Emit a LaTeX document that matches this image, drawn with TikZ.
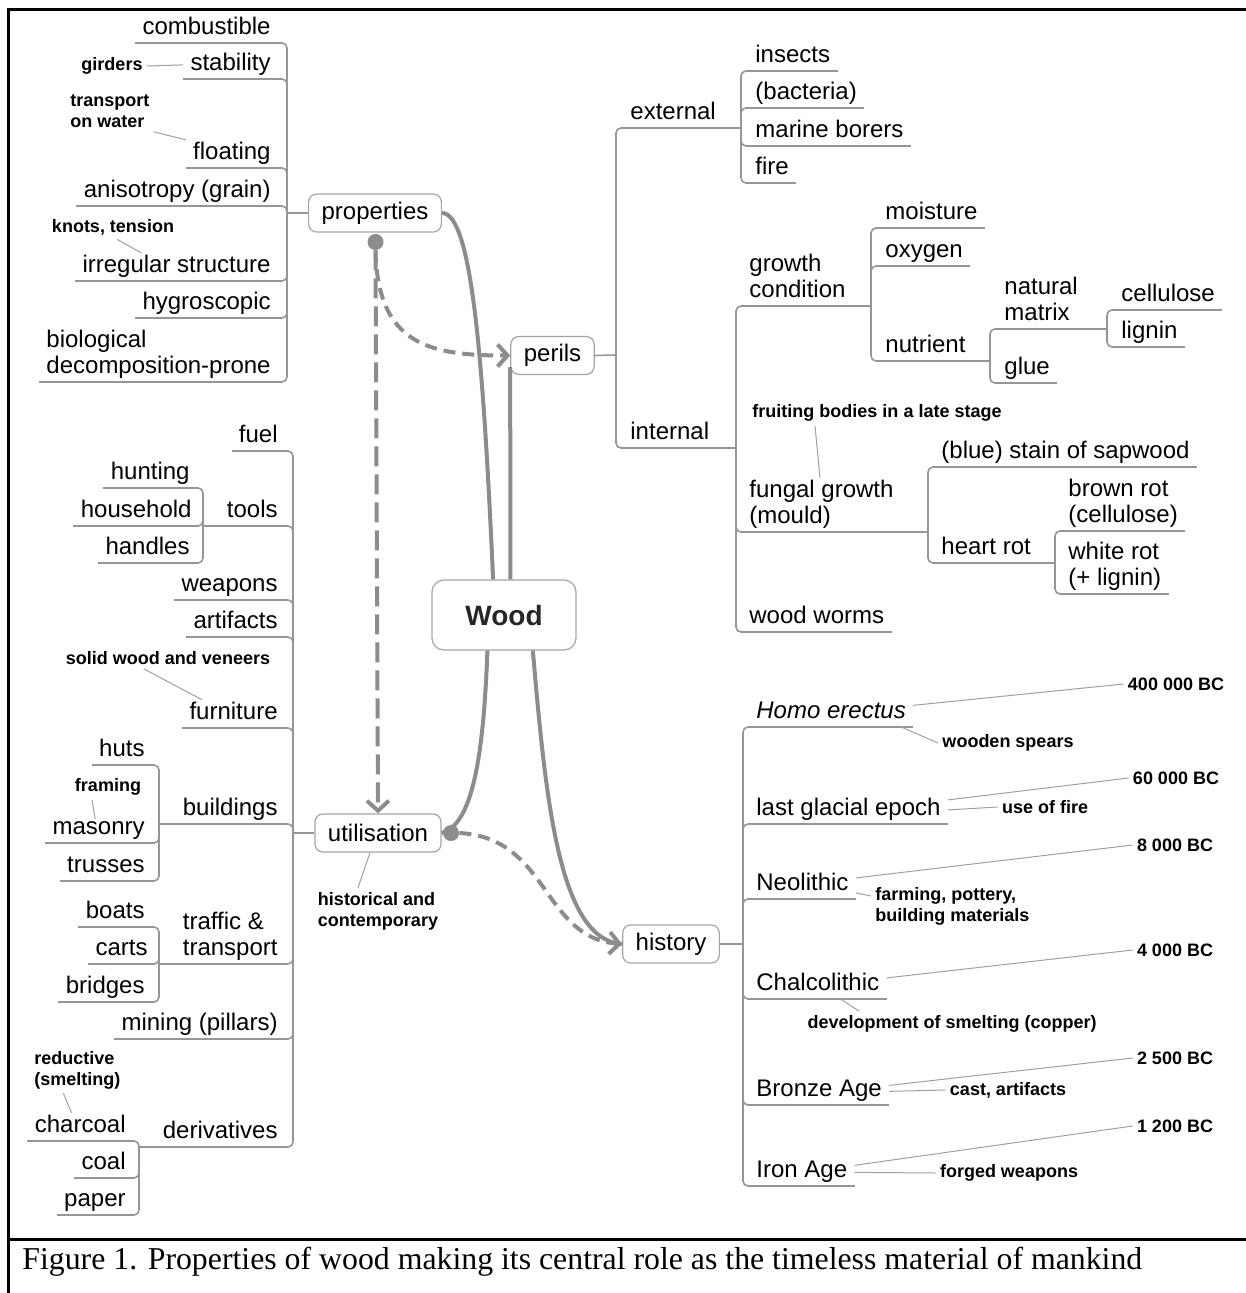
\documentclass[tikz,border=0pt]{standalone}
\usepackage{fontspec}
\setmainfont{Liberation Sans}
\newfontfamily\capfont{Liberation Serif}
\usetikzlibrary{arrows.meta,positioning}
\definecolor{linkgray}{RGB}{140,140,140}
\definecolor{branchgray}{RGB}{150,150,150}
\definecolor{boxgray}{RGB}{165,165,165}
\definecolor{notegray}{RGB}{160,160,160}

\begin{document}
\begin{tikzpicture}[x=0.5pt, y=-0.5pt,
    boxnode/.style={draw=boxgray, line width=0.6pt, rounded corners=4pt, fill=white, font=\fontsize{12}{13}\selectfont, inner xsep=6.5pt, minimum height=19pt},
    branchline/.style={draw=branchgray, line width=0.8pt, rounded corners=2.5pt},
    leafnode/.style={font=\fontsize{12}{13}\selectfont, align=left, inner xsep=3.5pt, inner ysep=1pt, text depth=3pt,
        append after command={(\tikzlastnode.south west) edge[branchline] (\tikzlastnode.south east)}},
    lleaf/.style={leafnode, anchor=south east},
    rleaf/.style={leafnode, anchor=south west},
    notenode/.style={font=\bfseries\fontsize{9}{10.5}\selectfont, align=left, inner sep=2pt},
    noteline/.style={draw=notegray, line width=0.5pt},
    linkline/.style={draw=linkgray, line width=2pt},
    dashlink/.style={linkline, dash pattern=on 6pt off 3.5pt, -{Straight Barb[length=5pt,width=11pt]}},
    dotnode/.style={circle, fill=linkgray, minimum size=8pt, inner sep=0pt}]
    \useasboundingbox (0,0) rectangle (1245,1293);
    \draw[line width=1.5pt] (8,1300) -- (8,10) -- (1260,10);
    \draw[line width=1.5pt] (8,1239) -- (1260,1239);
    \node[anchor=base west, inner sep=0pt, font=\capfont\fontsize{15.9}{18}\selectfont] (caption) at (22,1269) {Figure 1. Properties of wood making its central role as the timeless material of mankind};

    \node[boxnode, minimum width=72pt, minimum height=35pt, rounded corners=6pt, text=black!85, font=\bfseries\fontsize{14}{16}\selectfont] (wood) at (504,615) {Wood};
    \node[boxnode] (properties) at (375,213) {properties};
    \node[boxnode] (perils) at (552.5,355.5) {perils};
    \node[boxnode] (utilisation) at (378,833) {utilisation};
    \node[boxnode] (history) at (671,944) {history};

    \draw[linkline] (properties.east) .. controls +(30,0) and +(-10,-220) .. (wood.107);
    \draw[linkline] (wood.80) -- ([yshift=4pt]perils.south west);
    \draw[linkline] (wood.-115) .. controls +(-4,110) and +(30,-8) .. (utilisation.east);
    \draw[linkline] (wood.-51) .. controls +(13,150) and +(-63,-4) .. (history.west);

    \node[dotnode] (pdot) at (375.5,242) {};
    \node[dotnode] (udot) at (451,833) {};
    \draw[dashlink] (pdot.south) .. controls +(2,95) and +(-80,0) .. (perils.west);
    \draw[dashlink, dash pattern=on 10pt off 4pt] (pdot.south) -- (utilisation.north);
    \draw[dashlink] (udot.east) .. controls +(90,5) and +(-80,-6) .. (history.west);

    \node[lleaf] (combustible) at (278,43) {combustible};
    \node[lleaf] (stability) at (278,79) {stability};
    \node[lleaf] (floating) at (278,168) {floating};
    \node[lleaf] (anisotropy) at (278,206) {anisotropy (grain)};
    \node[lleaf] (irregular) at (278,281) {irregular structure};
    \node[lleaf] (hygroscopic) at (278,318) {hygroscopic};
    \node[lleaf] (biological) at (278,382) {biological\\decomposition-prone};
    \coordinate (pj) at (287,213);
    \draw[branchline] (properties.west) -- (pj);
    \draw[branchline] (pj) |- (combustible.south east);
    \draw[branchline] (pj) |- (stability.south east);
    \draw[branchline] (pj) |- (floating.south east);
    \draw[branchline] (pj) |- (anisotropy.south east);
    \draw[branchline] (pj) |- (irregular.south east);
    \draw[branchline] (pj) |- (hygroscopic.south east);
    \draw[branchline] (pj) |- (biological.south east);

    \node[notenode] (girders) at (112,66) {girders};
    \node[notenode, anchor=west] (transport) at (66,111) {transport\\on water};
    \node[notenode] (knots) at (113,227) {knots, tension};
    \draw[noteline] (girders.east) -- (stability.west);
    \draw[noteline] (transport.south east) -- (floating.north west);
    \draw[noteline] ([xshift=2pt]knots.south) -- ([xshift=33pt]irregular.north west);

    \node[lleaf] (fuel) at (285,451) {fuel};
    \node[lleaf] (tools) at (285,526) {tools};
    \node[lleaf] (weapons) at (285,600) {weapons};
    \node[lleaf] (artifacts) at (285,637) {artifacts};
    \node[lleaf] (furniture) at (285,728) {furniture};
    \node[lleaf] (buildings) at (285,824) {buildings};
    \node[lleaf] (traffic) at (285,964) {traffic \&\\transport};
    \node[lleaf] (mining) at (285,1039) {mining (pillars)};
    \node[lleaf] (derivatives) at (285,1147) {derivatives};
    \coordinate (uj) at (293,833);
    \draw[branchline] (utilisation.west) -- (uj);
    \draw[branchline] (uj) |- (fuel.south east);
    \draw[branchline] (uj) |- (tools.south east);
    \draw[branchline] (uj) |- (weapons.south east);
    \draw[branchline] (uj) |- (artifacts.south east);
    \draw[branchline] (uj) |- (furniture.south east);
    \draw[branchline] (uj) |- (buildings.south east);
    \draw[branchline] (uj) |- (traffic.south east);
    \draw[branchline] (uj) |- (mining.south east);
    \draw[branchline] (uj) |- (derivatives.south east);

    \node[lleaf] (hunting) at (197,488) {hunting};
    \node[lleaf] (household) at (199,526) {household};
    \node[lleaf] (handles) at (197,563) {handles};
    \coordinate (tj) at (203,526);
    \draw[branchline] (tools.south west) -- (tj);
    \draw[branchline] (tj) |- (hunting.south east);
    \draw[branchline] (tj) |- (household.south east);
    \draw[branchline] (tj) |- (handles.south east);

    \node[lleaf] (huts) at (152,765) {huts};
    \node[lleaf] (masonry) at (152,843) {masonry};
    \node[lleaf] (trusses) at (152,881) {trusses};
    \coordinate (bj) at (159,824);
    \draw[branchline] (buildings.south west) -- (bj);
    \draw[branchline] (bj) |- (huts.south east);
    \draw[branchline] (bj) |- (masonry.south east);
    \draw[branchline] (bj) |- (trusses.south east);

    \node[lleaf] (boats) at (152,927) {boats};
    \node[lleaf] (carts) at (155,964) {carts};
    \node[lleaf] (bridges) at (152,1002) {bridges};
    \coordinate (trj) at (159,964);
    \draw[branchline] (traffic.south west) -- (trj);
    \draw[branchline] (trj) |- (boats.south east);
    \draw[branchline] (trj) |- (carts.south east);
    \draw[branchline] (trj) |- (bridges.south east);

    \node[lleaf] (charcoal) at (133,1141) {charcoal};
    \node[lleaf] (coal) at (133,1178) {coal};
    \node[lleaf] (paper) at (133,1215) {paper};
    \coordinate (dj) at (139,1147);
    \draw[branchline] (derivatives.south west) -- (dj);
    \draw[branchline] (dj) |- (charcoal.south east);
    \draw[branchline] (dj) |- (coal.south east);
    \draw[branchline] (dj) |- (paper.south east);

    \node[notenode] (solid) at (168,658) {solid wood and veneers};
    \node[notenode] (framing) at (108,787) {framing};
    \node[notenode, anchor=west] (reductive) at (30,1070) {reductive\\(smelting)};
    \node[notenode] (historical) at (378,911) {historical and\\contemporary};
    \draw[noteline] ([xshift=-12pt]solid.south) -- ([xshift=10pt]furniture.north west);
    \draw[noteline] ([xshift=-8pt]framing.south) -- ([xshift=25pt]masonry.north west);
    \draw[noteline] ([xshift=-7pt]reductive.south) -- ([xshift=22pt]charcoal.north west);
    \draw[noteline] ([xshift=-4pt]utilisation.south) -- ([xshift=-10pt]historical.north);

    \node[rleaf] (external) at (623,128) {external};
    \node[rleaf] (internal) at (623,448) {internal};
    \coordinate (rj) at (616,355);
    \draw[branchline] (perils.east) -- (rj);
    \draw[branchline] (rj) |- (external.south west);
    \draw[branchline] (rj) |- (internal.south west);

    \node[rleaf] (insects) at (748,71) {insects};
    \node[rleaf] (bacteria) at (748,108) {(bacteria)};
    \node[rleaf] (marine) at (748,146) {marine borers};
    \node[rleaf] (fire) at (748,183) {fire};
    \coordinate (ej) at (741,128);
    \draw[branchline] (external.south east) -- (ej);
    \draw[branchline] (ej) |- (insects.south west);
    \draw[branchline] (ej) |- (bacteria.south west);
    \draw[branchline] (ej) |- (marine.south west);
    \draw[branchline] (ej) |- (fire.south west);

    \node[rleaf] (growth) at (742,306) {growth\\condition};
    \node[rleaf] (fungal) at (742,532) {fungal growth\\(mould)};
    \node[rleaf] (worms) at (742,632) {wood worms};
    \coordinate (ij) at (736,448);
    \draw[branchline] (internal.south east) -- (ij);
    \draw[branchline] (ij) |- (growth.south west);
    \draw[branchline] (ij) |- (fungal.south west);
    \draw[branchline] (ij) |- (worms.south west);

    \node[rleaf] (moisture) at (878,228) {moisture};
    \node[rleaf] (oxygen) at (878,266) {oxygen};
    \node[rleaf] (nutrient) at (878,361) {nutrient};
    \coordinate (gj) at (871,306);
    \draw[branchline] (growth.south east) -- (gj);
    \draw[branchline] (gj) |- (moisture.south west);
    \draw[branchline] (gj) |- (oxygen.south west);
    \draw[branchline] (gj) |- (nutrient.south west);

    \node[rleaf] (matrix) at (997,329) {natural\\matrix};
    \node[rleaf] (glue) at (997,383) {glue};
    \coordinate (nj) at (990,361);
    \draw[branchline] (nutrient.south east) -- (nj);
    \draw[branchline] (nj) |- (matrix.south west);
    \draw[branchline] (nj) |- (glue.south west);

    \node[rleaf] (cellulose) at (1114,310) {cellulose};
    \node[rleaf] (lignin) at (1114,347) {lignin};
    \coordinate (mj) at (1107,329);
    \draw[branchline] (matrix.south east) -- (mj);
    \draw[branchline] (mj) |- (cellulose.south west);
    \draw[branchline] (mj) |- (lignin.south west);

    \node[rleaf] (stain) at (934,467) {(blue) stain of sapwood};
    \node[rleaf] (heartrot) at (934,563) {heart rot};
    \coordinate (fj) at (928,532);
    \draw[branchline] (fungal.south east) -- (fj);
    \draw[branchline] (fj) |- (stain.south west);
    \draw[branchline] (fj) |- (heartrot.south west);

    \node[rleaf] (brownrot) at (1061,531) {brown rot\\(cellulose)};
    \node[rleaf] (whiterot) at (1061,594) {white rot\\(+ lignin)};
    \coordinate (hrj) at (1055,563);
    \draw[branchline] (heartrot.south east) -- (hrj);
    \draw[branchline] (hrj) |- (brownrot.south west);
    \draw[branchline] (hrj) |- (whiterot.south west);

    \node[notenode] (fruiting) at (877,413) {fruiting bodies in a late stage};
    \draw[noteline] ([xshift=-31pt]fruiting.south) -- ([xshift=39pt]fungal.north west);

    \node[rleaf] (homo) at (749,727) {\textit{Homo erectus}};
    \node[rleaf] (glacial) at (749,824) {last glacial epoch};
    \node[rleaf] (neolithic) at (749,899) {Neolithic};
    \node[rleaf] (chalcolithic) at (749,999) {Chalcolithic};
    \node[rleaf] (bronze) at (749,1105) {Bronze Age};
    \node[rleaf] (iron) at (749,1186) {Iron Age};
    \coordinate (hj) at (743,944);
    \draw[branchline] (history.east) -- (hj);
    \draw[branchline] (hj) |- (homo.south west);
    \draw[branchline] (hj) |- (glacial.south west);
    \draw[branchline] (hj) |- (neolithic.south west);
    \draw[branchline] (hj) |- (chalcolithic.south west);
    \draw[branchline] (hj) |- (bronze.south west);
    \draw[branchline] (hj) |- (iron.south west);

    \node[notenode] (bcfourhundred) at (1176,684) {400 000 BC};
    \node[notenode] (spears) at (1008,743) {wooden spears};
    \node[notenode] (bcsixty) at (1176,778) {60 000 BC};
    \node[notenode] (usefire) at (1045,807) {use of fire};
    \node[notenode] (bceight) at (1175,845) {8 000 BC};
    \node[notenode, anchor=west] (farming) at (871,906) {farming, pottery,\\building materials};
    \node[notenode] (bcfour) at (1175,950) {4 000 BC};
    \node[notenode] (smelting) at (952,1024) {development of smelting (copper)};
    \node[notenode] (bctwofive) at (1175,1058) {2 500 BC};
    \node[notenode] (cast) at (1008,1090) {cast, artifacts};
    \node[notenode] (bctwelve) at (1175,1126) {1 200 BC};
    \node[notenode] (forged) at (1009,1173) {forged weapons};

    \draw[noteline] ([yshift=4pt]homo.east) -- (bcfourhundred.west);
    \draw[noteline] ([xshift=-6pt]homo.south east) -- (spears.west);
    \draw[noteline] ([yshift=5pt]glacial.east) -- (bcsixty.west);
    \draw[noteline] (glacial.east) -- (usefire.west);
    \draw[noteline] ([yshift=3.5pt]neolithic.east) -- (bceight.west);
    \draw[noteline] ([yshift=-4pt]neolithic.east) -- ([yshift=5pt]farming.west);
    \draw[noteline] ([yshift=3.5pt]chalcolithic.east) -- (bcfour.west);
    \draw[noteline] ([xshift=-23pt]chalcolithic.south east) -- ([xshift=28pt]smelting.north west);
    \draw[noteline] ([yshift=3pt]bronze.east) -- (bctwofive.west);
    \draw[noteline] (bronze.east) -- (cast.west);
    \draw[noteline] ([yshift=3.5pt]iron.east) -- (bctwelve.west);
    \draw[noteline] (iron.east) -- (forged.west);
\end{tikzpicture}
\end{document}
